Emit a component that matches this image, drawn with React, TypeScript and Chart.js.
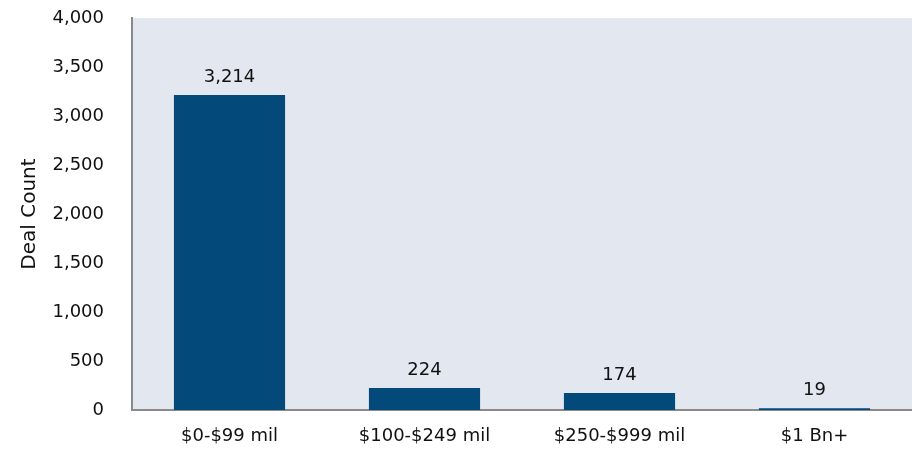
import React, { useEffect, useRef } from "react";
import { Chart, registerables } from "chart.js";

Chart.register(...registerables);

const categories = ["$0-$99 mil", "$100-$249 mil", "$250-$999 mil", "$1 Bn+"];
const dealCounts = [3214, 224, 174, 19];
const yTickMax = 4000;
const yTickStep = 500;

const FONT = "'DejaVu Sans', sans-serif";

const bgPlugin = {
  id: "plotBg",
  beforeDraw(chart: any) {
    const { ctx, chartArea } = chart;
    ctx.save();
    ctx.fillStyle = "#e3e7ef";
    ctx.fillRect(chartArea.left, chartArea.top, chartArea.right - chartArea.left, chartArea.bottom - chartArea.top);
    ctx.restore();
  },
};

const labelPlugin = {
  id: "barLabels",
  afterDatasetsDraw(chart: any) {
    const { ctx } = chart;
    const meta = chart.getDatasetMeta(0);
    const data = chart.data.datasets[0].data as number[];
    ctx.save();
    ctx.font = `18px ${FONT}`;
    ctx.fillStyle = "#111111";
    ctx.textAlign = "center";
    ctx.textBaseline = "alphabetic";
    meta.data.forEach((bar: any, i: number) => {
      ctx.fillText(data[i].toLocaleString("en-US"), bar.x, bar.y - 13);
    });
    ctx.restore();
  },
};

export default function App() {
  const ref = useRef<HTMLCanvasElement>(null);
  useEffect(() => {
    document.body.style.margin = "0";
    const chart = new Chart(ref.current!, {
      type: "bar",
      data: {
        labels: categories,
        datasets: [
          {
            data: dealCounts,
            backgroundColor: "#03497a",
            borderWidth: 0,
            categoryPercentage: 0.57,
            barPercentage: 1,
          },
        ],
      },
      options: {
        animation: false,
        responsive: false,
        maintainAspectRatio: false,
        layout: { padding: { top: 18, left: 0, right: 0, bottom: 0 } },
        plugins: { legend: { display: false }, tooltip: { enabled: false } },
        scales: {
          x: {
            grid: { display: false, drawTicks: false, tickLength: 0 },
            border: { display: true, color: "#8a8a8a", width: 2 },
            ticks: { color: "#111111", font: { family: FONT, size: 18 }, padding: 16, maxRotation: 0 },
            afterFit(scale: any) {
              scale.height = 42;
              scale.paddingLeft = 0;
              scale.paddingRight = 0;
            },
          },
          y: {
            min: 0,
            max: yTickMax,
            grid: { display: false, drawTicks: false, tickLength: 0 },
            border: { display: true, color: "#8a8a8a", width: 2 },
            ticks: {
              stepSize: yTickStep,
              color: "#111111",
              font: { family: FONT, size: 18 },
              padding: 28,
              callback: (v: any) => Number(v).toLocaleString("en-US"),
            },
            title: {
              display: true,
              text: "Deal Count",
              color: "#111111",
              font: { family: FONT, size: 20 },
              padding: { top: 18, bottom: 0 },
            },
            afterFit(scale: any) {
              scale.width = 132;
              scale.paddingTop = 0;
              scale.paddingBottom = 0;
            },
          },
        },
      },
      plugins: [bgPlugin, labelPlugin],
    });
    return () => chart.destroy();
  }, []);
  return (
    <div style={{ width: 912, height: 452 }}>
      <canvas ref={ref} width={912} height={452} style={{ display: "block" }} />
    </div>
  );
}
